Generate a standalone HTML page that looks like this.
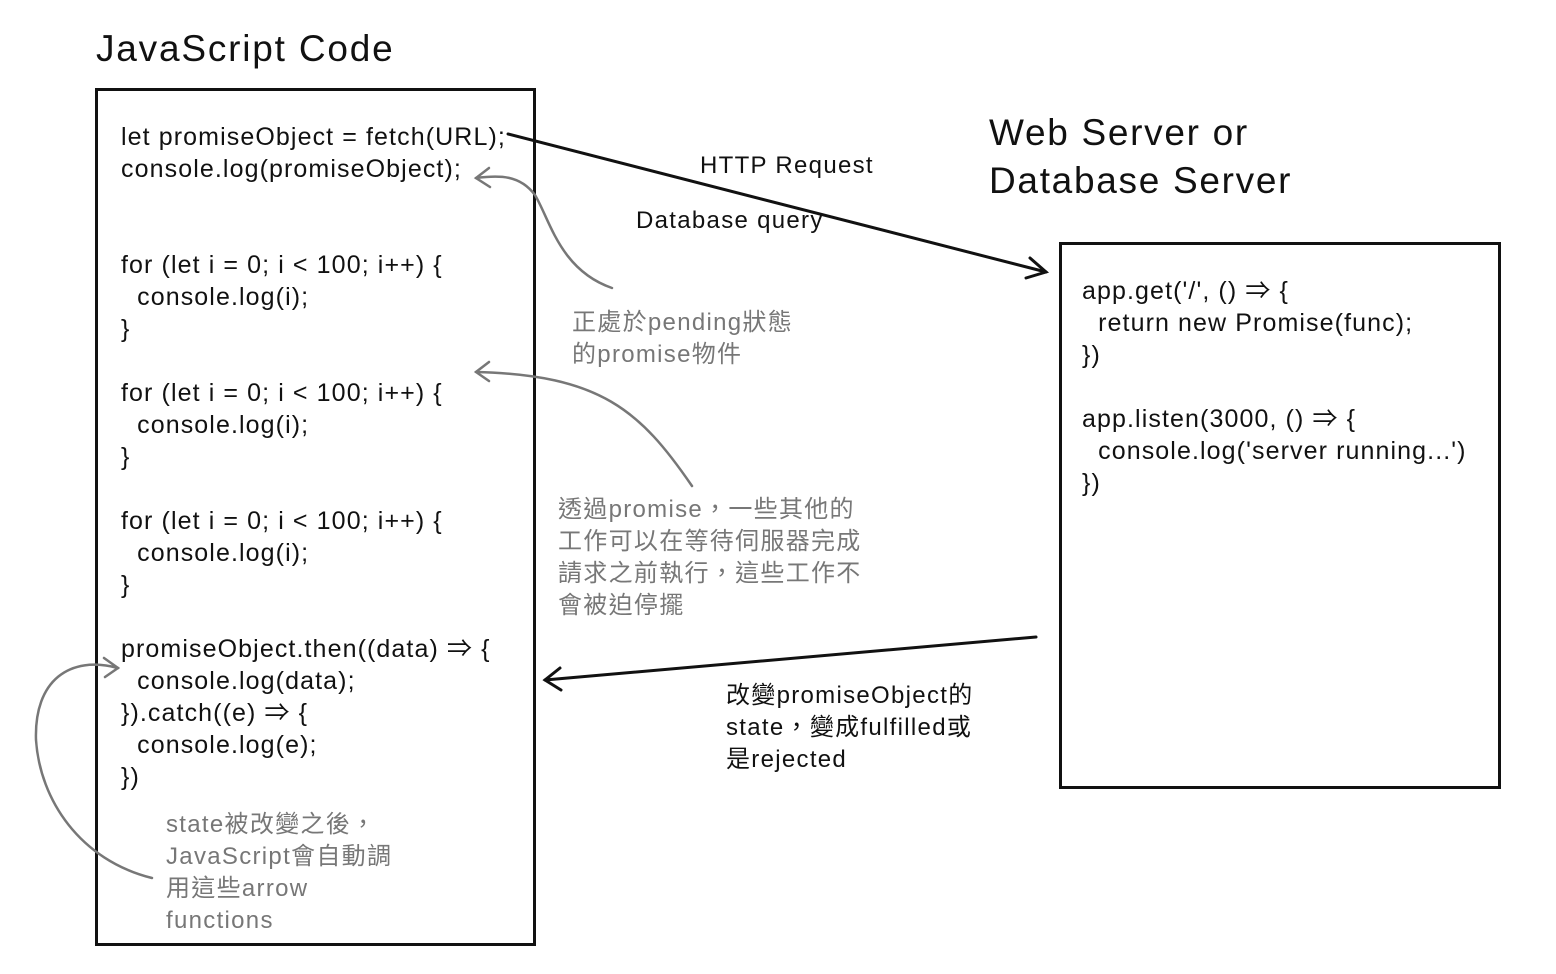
<!DOCTYPE html>
<html><head><meta charset="utf-8"><style>
body{margin:0;width:1556px;height:974px;background:#fff;position:relative;overflow:hidden;font-family:"Liberation Sans","Noto Sans CJK TC",sans-serif;color:#111}
.t{position:absolute;white-space:pre;line-height:32px;font-size:24px;letter-spacing:1.3px}
.c{font-size:25px;letter-spacing:1.1px}
.g{color:#777}
.box{position:absolute;border:3px solid #111;box-sizing:border-box}
</style></head><body>
<div class="t" style="left:96px;top:26px;font-size:37px;line-height:46px;letter-spacing:1.8px">JavaScript Code</div>
<div class="t" style="left:989px;top:109px;font-size:37px;line-height:48px;letter-spacing:1.7px">Web Server or
Database Server</div>
<div class="box" style="left:95px;top:88px;width:441px;height:858px"></div>
<div class="box" style="left:1059px;top:242px;width:442px;height:547px"></div>
<div class="t c" style="left:121px;top:121px">let promiseObject = fetch(URL);
console.log(promiseObject);


for (let i = 0; i &lt; 100; i++) {
  console.log(i);
}

for (let i = 0; i &lt; 100; i++) {
  console.log(i);
}

for (let i = 0; i &lt; 100; i++) {
  console.log(i);
}

promiseObject.then((data) ⇒ {
  console.log(data);
}).catch((e) ⇒ {
  console.log(e);
})</div>
<div class="t g" style="left:166px;top:809px">state被改變之後，
JavaScript會自動調
用這些arrow
functions</div>
<div class="t g" style="left:572px;top:307px">正處於pending狀態
的promise物件</div>
<div class="t g" style="left:558px;top:494px">透過promise，一些其他的
工作可以在等待伺服器完成
請求之前執行，這些工作不
會被迫停擺</div>
<div class="t" style="left:700px;top:150px">HTTP Request</div>
<div class="t" style="left:636px;top:205px">Database query</div>
<div class="t" style="left:726px;top:680px">改變promiseObject的
state，變成fulfilled或
是rejected</div>
<div class="t c" style="left:1082px;top:275px">app.get('/', () ⇒ {
  return new Promise(func);
})

app.listen(3000, () ⇒ {
  console.log('server running...')
})</div>
<svg width="1556" height="974" style="position:absolute;left:0;top:0" fill="none">
<g stroke="#111" stroke-width="3" stroke-linecap="round">
<path d="M508 134 L1046 272"/><path d="M1030 258 L1046 272 L1026 278"/>
<path d="M1036 637 L545 680"/><path d="M560 668 L545 680 L561 690"/>
</g>
<g stroke="#777" stroke-width="2.5" stroke-linecap="round">
<path d="M612 288 C560 270 550 220 535 195 C520 175 500 175 476 178"/><path d="M489 168 L476 178 L490 187"/>
<path d="M692 486 C640 410 600 375 476 372"/><path d="M489 362 L476 372 L489 381"/>
<path d="M152 878 C80 860 40 800 36 740 C34 680 70 655 118 668"/><path d="M104 658 L118 668 L105 677"/>
</g>
</svg>
</body></html>
